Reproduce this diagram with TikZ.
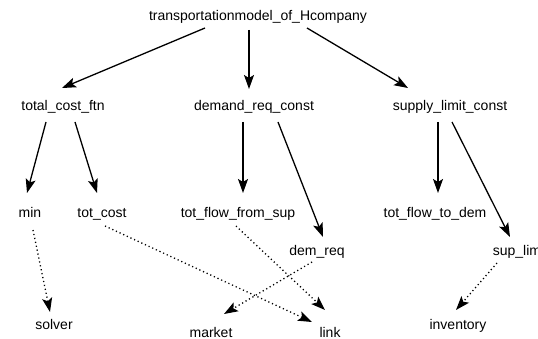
\documentclass[tikz,border=0pt]{standalone}
\usepackage{fontspec}
\setmainfont{Liberation Sans}
\usetikzlibrary{arrows.meta}
\tikzset{
  lbl/.style={anchor=base, inner sep=0pt, font=\fontsize{14}{16}\selectfont},
  solidarrow/.style={line width=1.3pt, -{Stealth[length=14pt,width=10pt,inset=3pt]}},
  dotarrow/.style={line width=1.3pt, dash pattern=on 1.2pt off 2.8pt, -{Stealth[length=14pt,width=10pt,inset=3pt]}},
}
\begin{document}
\begin{tikzpicture}[x=1pt,y=-1pt]
\useasboundingbox (0,0) rectangle (538,339);
\fill[white] (0,0) rectangle (538,339);
\node[lbl] (root) at (258,21) {transportationmodel\_of\_Hcompany};
\node[lbl] (tcf) at (63,111) {total\_cost\_ftn};
\node[lbl] (drc) at (254,111) {demand\_req\_const};
\node[lbl] (slc) at (450,111) {supply\_limit\_const};
\node[lbl] (min) at (30,218) {min};
\node[lbl] (totcost) at (102,218) {tot\_cost};
\node[lbl] (tffs) at (238,218) {tot\_flow\_from\_sup};
\node[lbl] (demreq) at (317,255) {dem\_req};
\node[lbl] (tftd) at (435,218) {tot\_flow\_to\_dem};
\node[lbl] (suplim) at (517,255) {sup\_lim};
\node[lbl] (solver) at (54,329) {solver};
\node[lbl] (market) at (211,337) {market};
\node[lbl] (link) at (330,337) {link};
\node[lbl] (inventory) at (458,329) {inventory};

\draw[solidarrow] ([shift={(-53,7)}]root.base) -- ([shift={(-1,-23)}]tcf.base);
\draw[solidarrow] ([shift={(-9,9)}]root.base) -- ([shift={(-5,-22)}]drc.base);
\draw[solidarrow] ([shift={(49,7)}]root.base) -- ([shift={(-42,-23)}]slc.base);
\draw[solidarrow] ([shift={(-17,11)}]tcf.base) -- ([shift={(-3,-25)}]min.base);
\draw[solidarrow] ([shift={(12,11)}]tcf.base) -- ([shift={(-5,-25)}]totcost.base);
\draw[solidarrow] ([shift={(-11,11)}]drc.base) -- ([shift={(5,-25)}]tffs.base);
\draw[solidarrow] ([shift={(24,11)}]drc.base) -- ([shift={(6,-18)}]demreq.base);
\draw[solidarrow] ([shift={(-12,11)}]slc.base) -- ([shift={(3,-25)}]tftd.base);
\draw[solidarrow] ([shift={(2,11)}]slc.base) -- ([shift={(-7,-18)}]suplim.base);

\draw[dotarrow] ([shift={(3,12)}]min.base) -- ([shift={(-4,-17)}]solver.base);
\draw[dotarrow] ([shift={(3,8)}]totcost.base) -- ([shift={(-18,-15)}]link.base);
\draw[dotarrow] ([shift={(-2,8)}]tffs.base) -- ([shift={(-5,-27)}]link.base);
\draw[dotarrow] ([shift={(-5,7)}]demreq.base) -- ([shift={(13,-23)}]market.base);
\draw[dotarrow] ([shift={(-20,8)}]suplim.base) -- ([shift={(-2,-19)}]inventory.base);
\end{tikzpicture}
\end{document}
